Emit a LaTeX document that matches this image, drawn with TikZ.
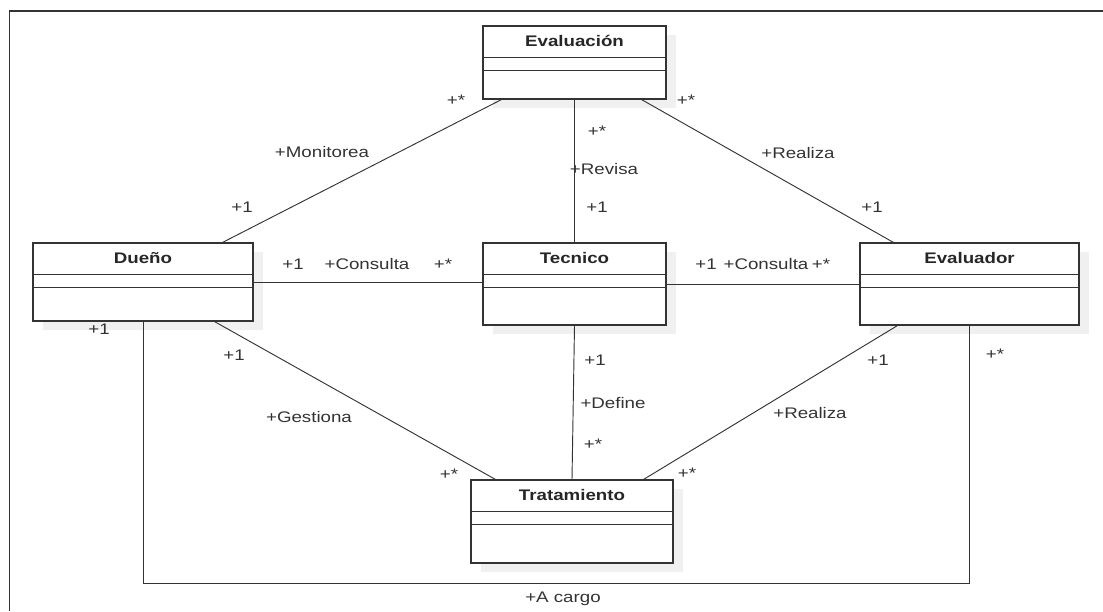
\documentclass[tikz,border=0pt]{standalone}
\usepackage{fontspec}
\setmainfont{Liberation Sans}[FakeStretch=1.22]
\usetikzlibrary{calc}
\definecolor{linea}{HTML}{333333}
\definecolor{sombra}{HTML}{F0F0F0}
\tikzset{
  clase/.style={draw=linea,line width=0.9pt,fill=white,rectangle,inner sep=0pt},
  asoc/.style={draw=linea,line width=0.7pt},
  etq/.style={text=linea,font=\fontsize{11.5}{13}\selectfont,inner sep=0pt},
  titulo/.style={text=black!85,font=\fontsize{11.5}{13}\selectfont\bfseries,inner sep=0pt}
}
% nombre, x centro, y centro, ancho, alto, titulo
\newcommand{\clase}[6]{%
  \fill[sombra] (#2-#4/2+10,#3-#5/2+9) rectangle ++(#4,#5);
  \node[clase,minimum width=#4*0.75pt,minimum height=#5*0.75pt] (#1) at (#2,#3) {};
  \node[titulo] at ($(#1.north)+(0,16)$) {#6};
  \draw[linea,line width=0.9pt] ($(#1.north west)+(0,32)$) -- ($(#1.north east)+(0,32)$);
  \draw[linea,line width=0.9pt] ($(#1.north west)+(0,45)$) -- ($(#1.north east)+(0,45)$);
}
\begin{document}
\begin{tikzpicture}[x=0.75pt,y=-0.75pt]
  \useasboundingbox (0,0) rectangle (1103,611);
  % marco
  \draw[linea,line width=1.1pt] (9.5,611) -- (9.5,11) -- (1103,11);

  % clases
  \clase{eval}{574.5}{62.5}{183}{73}{Evaluación}
  \clase{duenio}{143}{282}{220}{78}{Dueño}
  \clase{tecnico}{574.5}{284}{183}{82}{Tecnico}
  \clase{evaluador}{969.5}{284}{219}{82}{Evaluador}
  \clase{trat}{572}{521.5}{202}{83}{Tratamiento}

  % asociaciones
  \draw[asoc] ($(eval.south west)+(19,0)$) -- ($(duenio.north east)+(-31,0)$);
  \draw[asoc] (eval.south) -- (tecnico.north);
  \draw[asoc] ($(eval.south east)+(-25,0)$) -- ($(evaluador.north west)+(34,0)$);
  \draw[asoc] (duenio.east) -- (duenio.east -| tecnico.west);
  \draw[asoc] (tecnico.east) -- (evaluador.west);
  \draw[asoc] ($(duenio.south east)+(-39,0)$) -- ($(trat.north west)+(25,0)$);
  \draw[asoc] (tecnico.south) -- (trat.north);
  \draw[asoc] ($(evaluador.south west)+(38,0)$) -- ($(trat.north east)+(-30,0)$);
  \draw[asoc] (duenio.south) -- (duenio.south |- 0,583) -| (evaluador.south);

  % multiplicidades y roles
  \node[etq] at (456,100) {+*};
  \node[etq] at (322,152) {+Monitorea};
  \node[etq] at (242,207) {+1};
  \node[etq] at (597,131) {+*};
  \node[etq] at (604,169) {+Revisa};
  \node[etq] at (597,207) {+1};
  \node[etq] at (686,100) {+*};
  \node[etq] at (798,153) {+Realiza};
  \node[etq] at (872,207) {+1};
  \node[etq] at (293,264) {+1};
  \node[etq] at (367,264) {+Consulta};
  \node[etq] at (443,264) {+*};
  \node[etq] at (706,264) {+1};
  \node[etq] at (766,264) {+Consulta};
  \node[etq] at (821,264) {+*};
  \node[etq] at (99,329) {+1};
  \node[etq] at (234,355) {+1};
  \node[etq] at (309,417) {+Gestiona};
  \node[etq] at (449,474) {+*};
  \node[etq] at (595,360) {+1};
  \node[etq] at (613,403) {+Define};
  \node[etq] at (593,444) {+*};
  \node[etq] at (687,473) {+*};
  \node[etq] at (878,360) {+1};
  \node[etq] at (810,413) {+Realiza};
  \node[etq] at (995,354) {+*};
  \node[etq] at (563,599) {+A cargo};
\end{tikzpicture}
\end{document}
